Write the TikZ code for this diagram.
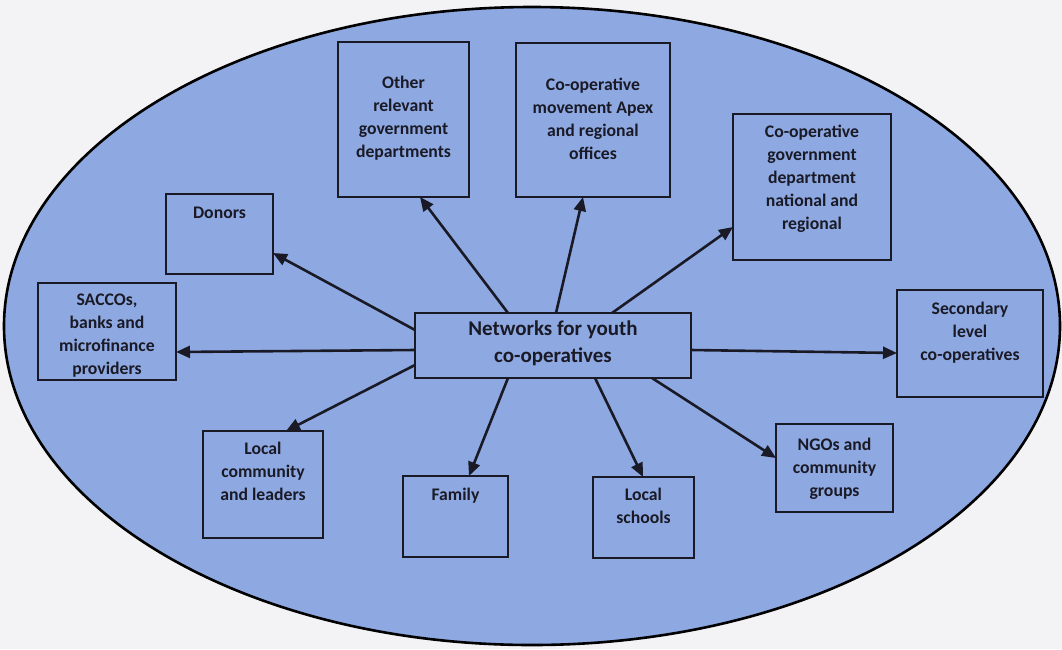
\documentclass[tikz,border=0pt]{standalone}
\usepackage{fontspec}
\setmainfont{Carlito}
\usetikzlibrary{arrows.meta}

\definecolor{pagebg}{HTML}{F3F3F5}
\definecolor{ovalfill}{HTML}{8EA9E2}
\definecolor{inkdark}{HTML}{1A1A26}

\tikzset{
  boxshape/.style={draw=inkdark, line width=2.2pt, rectangle, inner sep=0pt,
    outer sep=0pt, anchor=north west},
  boxtext/.style={anchor=north, inner sep=0pt, align=center, text=inkdark,
    font=\fontsize{17.7pt}{23pt}\selectfont\bfseries,
    execute at begin node={\rule{0pt}{14pt}}},
  hubtext/.style={anchor=north, inner sep=0pt, align=center, text=inkdark,
    font=\fontsize{21pt}{27pt}\selectfont\bfseries,
    execute at begin node={\rule{0pt}{16pt}}},
  arr/.style={draw=inkdark, line width=2.6pt,
    -{Triangle[length=14pt,width=12pt]}},
}

% place a box by its corners (x0,y0) and (x1,y1), y measured downward
\newcommand{\boxat}[5]{%
  \node[boxshape, minimum width=#4pt-#2pt, minimum height=#5pt-#3pt]
    (#1) at (#2,#3) {};}

\begin{document}
\begin{tikzpicture}[x=1pt, y=-1pt]
  \useasboundingbox (0,0) rectangle (1062,649);
  \fill[pagebg] (0,0) rectangle (1062,649);

  % the large oval that holds the network
  \draw[fill=ovalfill, draw=black, line width=2.6pt]
    (532,326) ellipse [x radius=528, y radius=319];

  % boxes
  \boxat{other}{338}{42}{469}{197}
  \boxat{apex}{516}{43}{670}{197}
  \boxat{cgov}{733}{114}{891}{260}
  \boxat{donors}{166}{194}{273}{274}
  \boxat{saccos}{38}{283}{176}{380}
  \boxat{hub}{415}{313}{691}{378}
  \boxat{second}{897}{290}{1043}{397}
  \boxat{lcomm}{203}{431}{323}{538}
  \boxat{family}{403}{476}{508}{557}
  \boxat{schools}{593}{477}{694}{558}
  \boxat{ngos}{776}{424}{893}{512}

  % box texts
  \node[boxtext] (other-t) at (403.5,76) {Other\\relevant\\government\\departments};
  \node[boxtext] (apex-t) at (593,78) {Co-operative\\movement Apex\\and regional\\offices};
  \node[boxtext] (cgov-t) at (812,125) {Co-operative\\government\\department\\national and\\regional};
  \node[boxtext] (donors-t) at (219.5,204) {Donors};
  \node[boxtext] (saccos-t) at (107,294) {SACCOs,\\banks and\\microfinance\\providers};
  \node[hubtext] (hub-t) at (553,321) {Networks for youth\\co-operatives};
  \node[boxtext] (second-t) at (970,302) {Secondary\\level\\co-operatives};
  \node[boxtext] (lcomm-t) at (263,442) {Local\\community\\and leaders};
  \node[boxtext] (family-t) at (455.5,486) {Family};
  \node[boxtext] (schools-t) at (643.5,488) {Local\\schools};
  \node[boxtext] (ngos-t) at (834.5,438) {NGOs and\\community\\groups};

  % connectors from the hub outwards
  \draw[arr] ([xshift=93pt]hub.north west) -- ([xshift=82pt]other.south west);
  \draw[arr] ([xshift=141pt]hub.north west) -- ([xshift=67pt]apex.south west);
  \draw[arr] ([xshift=197pt]hub.north west) -- ([yshift=33pt]cgov.south west);
  \draw[arr] ([yshift=-17pt]hub.north west) -- ([yshift=21pt]donors.south east);
  \draw[arr] ([yshift=28pt]hub.south west) -- ([yshift=28pt]saccos.south east);
  \draw[arr] ([yshift=28pt]hub.south east) -- ([yshift=44pt]second.south west);
  \draw[arr] ([yshift=13pt]hub.south west) -- ([xshift=83pt]lcomm.north west);
  \draw[arr] ([xshift=93pt]hub.south west) -- ([xshift=66pt]family.north west);
  \draw[arr] ([xshift=180pt]hub.south west) -- ([xshift=50pt]schools.north west);
  \draw[arr] ([xshift=237pt]hub.south west) -- ([yshift=-34pt]ngos.north west);
\end{tikzpicture}
\end{document}
